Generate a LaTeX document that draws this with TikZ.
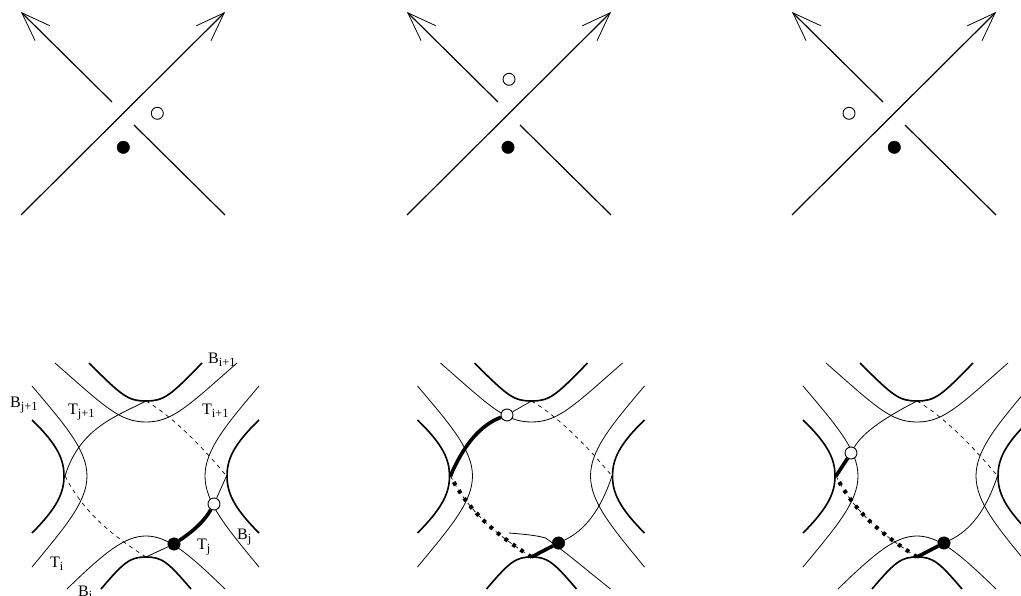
\documentclass[tikz,border=0pt]{standalone}
\usepackage{fontspec}
\setmainfont{Liberation Serif}
\usetikzlibrary{arrows.meta}
\tikzset{
  strand/.style={line width=1.2pt},
  thinarc/.style={line width=0.8pt},
  thickarc/.style={line width=1.6pt},
  chord/.style={line width=0.8pt},
  hidden/.style={line width=0.7pt,dash pattern=on 4pt off 4pt},
  bigchord/.style={line width=3.6pt},
  dotchord/.style={line width=4pt,dash pattern=on 3.6pt off 6pt},
  whitedot/.style={circle,draw,fill=white,line width=0.9pt,inner sep=0pt,minimum size=12pt},
  blackdot/.style={circle,draw,fill=black,inner sep=0pt,minimum size=12.5pt},
  lab/.style={anchor=base west,inner sep=0pt,font=\fontsize{16}{16}\selectfont},
}
\newcommand{\lsub}[2]{#1\raisebox{-3.5pt}{\fontsize{12.5}{12.5}\selectfont #2}}
\begin{document}
\begin{tikzpicture}[x=1pt,y=-1pt,>={Straight Barb[length=29pt,width=21pt,line width=0.8pt]}]
\clip (0,0) rectangle (1021,596);
\foreach \off/\wx/\wy/\bx/\pn in {0/157.3/113.3/123.3/a,386/123/79.3/122/b,771/78/113.3/123.3/c}{
\begin{scope}[xshift=\off pt]
\draw[strand,->] (21,215)--(225,12);
\draw[strand,->] (112,102)--(21,12);
\draw[strand] (134,125)--(225,215);
\node[whitedot] (top\pn) at (\wx,\wy){};
\node[blackdot] (bot\pn) at (\bx,147.3){};
\end{scope}
}
\foreach \off/\pn in {0/a,385.5/b,771/c}{
\begin{scope}[xshift=\off pt]
\draw[thickarc] (89,363) .. controls (122,396) and (128,401) .. (146,401) .. controls (164,401) and (170,396) .. (202,363);
\draw[thickarc] (101,589) .. controls (124,562) and (130,557) .. (146,557) .. controls (162,557) and (168,562) .. (191,589);
\draw[thickarc] (32,420) .. controls (58,445) and (64,460) .. (64,476) .. controls (64,492) and (58,507) .. (32,533);
\draw[thickarc] (259,420) .. controls (233,445) and (227,460) .. (227,476) .. controls (227,492) and (233,507) .. (259,533);
\draw[thinarc] (55,363) .. controls (105,407) and (120,422) .. (146,422) .. controls (172,422) and (187,407) .. (237,363);
\draw[thinarc] (32,386) .. controls (65,425) and (87,450) .. (87,476) .. controls (87,502) and (65,527) .. (32,567);
\draw[thinarc] (259,386) .. controls (226,425) and (205,450) .. (205,476) .. controls (205,502) and (226,527) .. (259,567);
\coordinate (n\pn) at (146,401);
\coordinate (s\pn) at (146,557);
\coordinate (w\pn) at (65,476);
\coordinate (e\pn) at (226.5,476);
\draw[hidden] (n\pn) .. controls (175,418) and (205,450) .. (e\pn);
\draw[hidden] (s\pn) .. controls (115,537) and (85,515) .. (w\pn);
\end{scope}
}
\begin{scope}
\draw[thinarc] (67,589) .. controls (105,552) and (125,536) .. (146,536) .. controls (167,536) and (187,552) .. (225,589);
\node[whitedot] (whitea) at (214,504){};
\node[blackdot] (blacka) at (174,544){};
\draw[chord] (na) .. controls (115,417) and (80,428) .. (wa);
\draw[chord] (ea)--(whitea);
\draw[bigchord] (whitea) .. controls (205,520) and (195,530) .. (blacka);
\draw[chord] (blacka)--(sa);
\node[lab] (bi1) at (208,363){\lsub{B}{i+1}};
\node[lab] (bj1) at (10,407){\lsub{B}{j+1}};
\node[lab] (tj1) at (68,414){\lsub{T}{j+1}};
\node[lab] (ti1) at (202,414){\lsub{T}{i+1}};
\node[lab] (tj) at (197,549){\lsub{T}{j}};
\node[lab] (bj) at (237,539){\lsub{B}{j}};
\node[lab] (ti) at (50,567){\lsub{T}{i}};
\node[lab] (bi) at (78,596){\lsub{B}{i}};
\end{scope}
\begin{scope}[xshift=385.5pt]
\draw[thinarc] (123.5,533) .. controls (135,534) and (150,535) .. (160,538) .. controls (180,552) and (195,565) .. (225,589);
\node[whitedot] (whiteb) at (121.5,415){};
\node[blackdot] (blackb) at (173,543){};
\draw[chord] (nb)--(whiteb);
\draw[bigchord] (whiteb) .. controls (95,425) and (78,445) .. (wb);
\draw[chord] (eb) .. controls (215,510) and (200,530) .. (blackb);
\draw[bigchord] (blackb)--(sb);
\draw[dotchord] (sb) .. controls (115,537) and (85,515) .. (wb);
\end{scope}
\begin{scope}[xshift=771pt]
\draw[thinarc] (67,589) .. controls (105,552) and (125,536) .. (146,536) .. controls (167,536) and (187,552) .. (225,589);
\node[whitedot] (whitec) at (80,453){};
\node[blackdot] (blackc) at (173,543){};
\draw[chord] (nc) .. controls (115,417) and (92,432) .. (whitec);
\draw[bigchord] (whitec)--(wc);
\draw[chord] (ec) .. controls (215,510) and (200,530) .. (blackc);
\draw[bigchord] (blackc)--(sc);
\draw[dotchord] (sc) .. controls (115,537) and (85,515) .. (wc);
\end{scope}
\end{tikzpicture}
\end{document}
